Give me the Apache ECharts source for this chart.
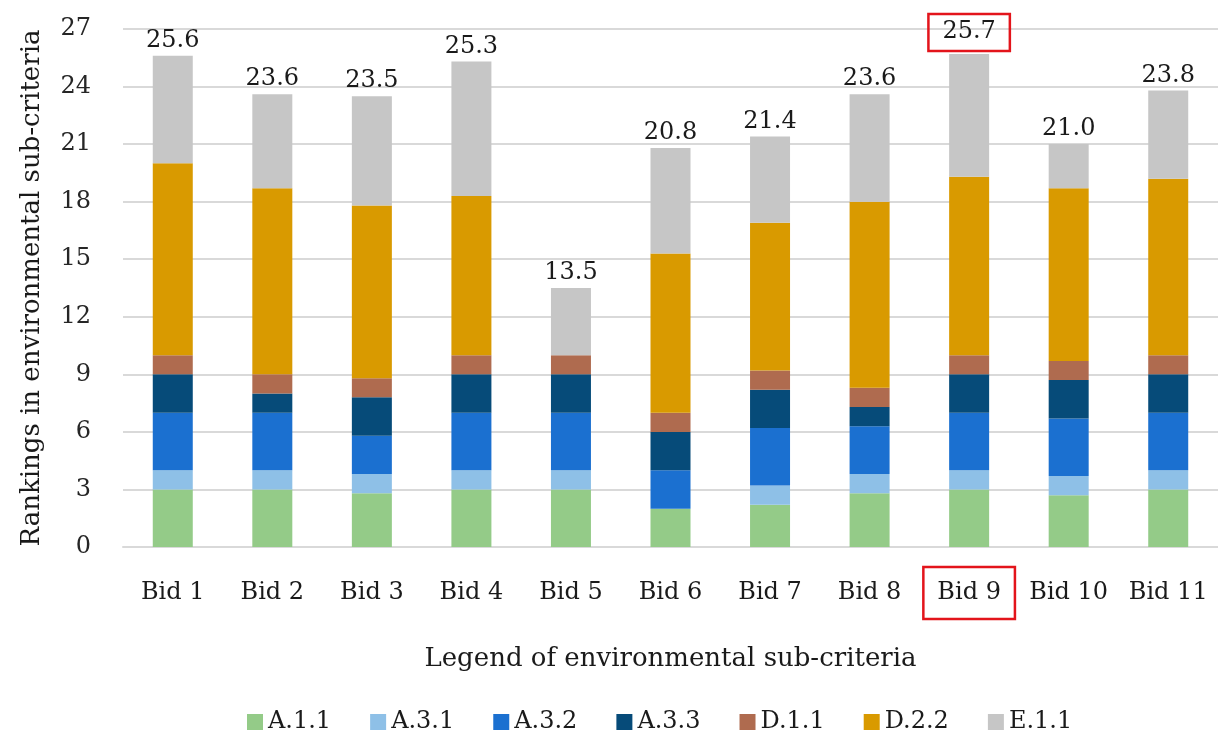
<!DOCTYPE html>
<html>
<head>
<meta charset="utf-8">
<title>Rankings in environmental sub-criteria</title>
<script src="https://cdn.jsdelivr.net/npm/echarts@6/dist/echarts.min.js"></script>
<style>
  html, body { margin: 0; padding: 0; background: #ffffff; }
  #chart { width: 1218px; height: 734px; }
</style>
</head>
<body>
<div id="chart"></div>
<script>
// Bids on the horizontal axis
const categories = ['Bid 1', 'Bid 2', 'Bid 3', 'Bid 4', 'Bid 5', 'Bid 6', 'Bid 7', 'Bid 8', 'Bid 9', 'Bid 10', 'Bid 11'];

// Score of each environmental sub-criterion, per bid (stacked bottom to top)
const a11 = [3.0, 3.0, 2.8, 3.0, 3.0, 2.0, 2.2, 2.8, 3.0, 2.7, 3.0];
const a31 = [1.0, 1.0, 1.0, 1.0, 1.0, 0.0, 1.0, 1.0, 1.0, 1.0, 1.0];
const a32 = [3.0, 3.0, 2.0, 3.0, 3.0, 2.0, 3.0, 2.5, 3.0, 3.0, 3.0];
const a33 = [2.0, 1.0, 2.0, 2.0, 2.0, 2.0, 2.0, 1.0, 2.0, 2.0, 2.0];
const d11 = [1.0, 1.0, 1.0, 1.0, 1.0, 1.0, 1.0, 1.0, 1.0, 1.0, 1.0];
const d22 = [10.0, 9.7, 9.0, 8.3, 0.0, 8.3, 7.7, 9.7, 9.3, 9.0, 9.2];
const e11 = [5.6, 4.9, 5.7, 7.0, 3.5, 5.5, 4.5, 5.6, 6.4, 2.3, 4.6];

// Value-axis ticks
const yTicks = [0, 3, 6, 9, 12, 15, 18, 21, 24, 27];

// Bid singled out with a red frame
const highlightedBid = 'Bid 9';

const seriesDefs = [
  { name: 'A.1.1', data: a11, color: '#94CB88' },
  { name: 'A.3.1', data: a31, color: '#8EC0E7' },
  { name: 'A.3.2', data: a32, color: '#1B70D0' },
  { name: 'A.3.3', data: a33, color: '#064B79' },
  { name: 'D.1.1', data: d11, color: '#AF6B4F' },
  { name: 'D.2.2', data: d22, color: '#D99A00' },
  { name: 'E.1.1', data: e11, color: '#C6C6C6' }
];

// Stack totals shown above each bar
const totals = categories.map((_, i) =>
  seriesDefs.reduce((s, d) => s + d.data[i], 0)
);

const FONT = '"DejaVu Serif", "Liberation Serif", serif';
const TEXT = '#1a1a1a';
const FRAME = '#E3141B';

const series = seriesDefs.map((d, k) => {
  const isTop = k === seriesDefs.length - 1;
  return {
    name: d.name,
    type: 'bar',
    stack: 'total',
    barWidth: 40,
    itemStyle: { color: d.color },
    emphasis: { disabled: true },
    data: d.data,
    label: isTop ? {
      show: true,
      position: 'top',
      distance: 3,
      fontFamily: FONT,
      fontSize: 24,
      color: TEXT,
      formatter: p => (categories[p.dataIndex] === highlightedBid ? '{h|' : '{n|') + totals[p.dataIndex].toFixed(1) + '}',
      rich: {
        n: { fontFamily: FONT, fontSize: 24, color: TEXT },
        h: { fontFamily: FONT, fontSize: 24, color: TEXT, padding: [6, 14, 7, 14],
             borderColor: FRAME, borderWidth: 2.5 }
      }
    } : { show: false }
  };
});

const chart = echarts.init(document.getElementById('chart'), null, { renderer: 'canvas' });

chart.setOption({
  backgroundColor: '#ffffff',
  animation: false,
  grid: { left: 123, right: -4, top: 29, bottom: 187, containLabel: false },
  legend: {
    data: seriesDefs.map(d => d.name),
    left: 242,
    top: 705,
    itemWidth: 16,
    itemHeight: 16,
    itemGap: 39,
    icon: 'rect',
    textStyle: { fontFamily: FONT, fontSize: 24, color: TEXT }
  },
  xAxis: {
    type: 'category',
    data: categories,
    name: 'Legend of environmental sub-criteria',
    nameLocation: 'middle',
    nameGap: 99,
    nameTextStyle: { fontFamily: FONT, fontSize: 26, color: TEXT },
    axisLine: { show: true, lineStyle: { color: '#D9D9D9', width: 2 } },
    axisTick: { show: false },
    axisLabel: {
      margin: 20,
      interval: 0,
      fontFamily: FONT,
      fontSize: 24,
      color: TEXT,
      formatter: v => (v === highlightedBid ? '{h|' : '{n|') + v + '}',
      rich: {
        n: { fontFamily: FONT, fontSize: 24, color: TEXT, padding: [14, 14, 14, 14] },
        h: { fontFamily: FONT, fontSize: 24, color: TEXT, padding: [14, 14, 14, 14],
             borderColor: FRAME, borderWidth: 2.5 }
      }
    }
  },
  yAxis: {
    type: 'value',
    min: yTicks[0],
    max: yTicks[yTicks.length - 1],
    interval: yTicks[1] - yTicks[0],
    name: 'Rankings in environmental sub-criteria',
    nameLocation: 'middle',
    nameGap: 78,
    nameTextStyle: { fontFamily: FONT, fontSize: 26, color: TEXT },
    axisLine: { show: false },
    axisTick: { show: false },
    axisLabel: { margin: 32, fontFamily: FONT, fontSize: 24, color: '#262626' },
    splitLine: { lineStyle: { color: '#D9D9D9', width: 2 } }
  },
  series: series
});
</script>
</body>
</html>
